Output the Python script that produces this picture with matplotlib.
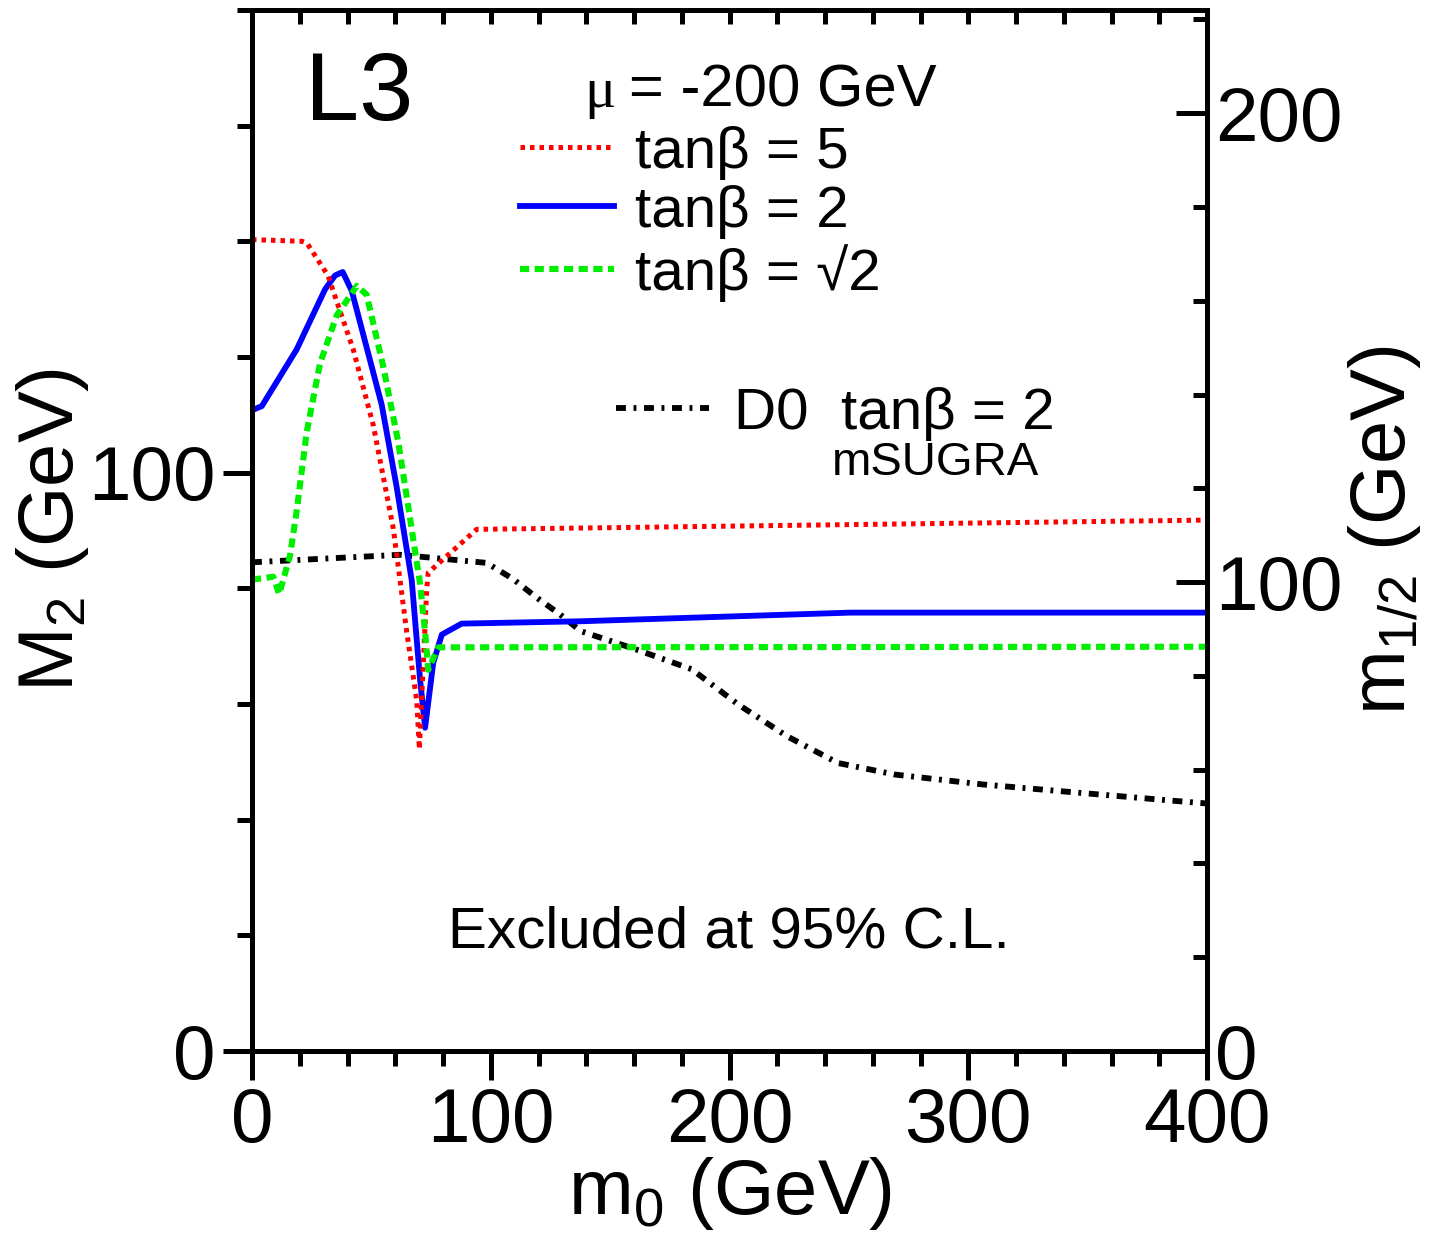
import matplotlib
matplotlib.use("Agg")
import matplotlib.pyplot as plt
from matplotlib.ticker import MultipleLocator

plt.rcParams['font.family'] = ['Liberation Sans', 'DejaVu Sans']
plt.rcParams['mathtext.fontset'] = 'custom'
plt.rcParams['mathtext.rm'] = 'Liberation Sans'
plt.rcParams['mathtext.it'] = 'Liberation Sans:italic'

# --- data (m0 in GeV, M2 in GeV) ---
m0_tb5 = [0, 21, 23, 31.8, 35.5, 42.4, 50.8, 59.2, 64.8, 69.0, 70.1, 73.2, 73.8, 94.1, 400]
M2_tb5 = [140.3, 140.0, 139.7, 134.1, 129.6, 121.3, 108.2, 90.3, 72.5, 60.6, 52.2, 80.0, 82.7, 90.2, 91.8]

m0_tb2 = [0, 4.1, 18.7, 30.6, 34.8, 38.0, 41.8, 54.3, 60.6, 66.9, 70.4, 72.5, 75.9, 79.5, 87.8, 137.4, 250.5, 400]
M2_tb2 = [110.8, 111.5, 121.3, 131.7, 134.1, 134.7, 131.4, 111.8, 97.5, 81.4, 64.2, 55.9, 67.1, 72.0, 73.9, 74.3, 75.8, 75.8]

m0_tbs2 = [0, 8.9, 11.4, 15.9, 18.7, 22.9, 28.5, 35.5, 43.9, 48.0, 55.0, 61.3, 66.2, 70.4, 72.5, 73.8, 78.0, 400]
M2_tbs2 = [81.5, 82.0, 79.0, 85.6, 93.3, 107.0, 118.9, 127.2, 132.3, 130.8, 118.3, 105.2, 92.1, 80.8, 72.5, 65.9, 69.8, 69.9]

m0_d0 = [0, 62, 98.3, 109.4, 119.2, 129, 137.7, 161.1, 184.2, 203.7, 224.2, 245.4, 269.3, 305.8, 342.2, 390.8, 400]
M2_d0 = [84.5, 85.8, 84.4, 81.6, 78.4, 75.5, 72.6, 69.4, 66.0, 59.9, 54.4, 49.8, 47.8, 46.1, 44.8, 43.1, 42.8]

labels = ["tanβ = 5", "tanβ = 2", "tanβ = √2"]

W, H = 1439, 1247
fig = plt.figure(figsize=(W / 100, H / 100), dpi=100)
ax = fig.add_axes([252 / W, 1 - 1051 / H, (1207 - 252) / W, (1051 - 10) / H])

lw_sp = 3.6
red_ls = (0, (0.9, 1.0))
green_ls = (0, (1.5, 0.9))
black_ls = (0, (1.7, 1.3, 0.5, 1.3))

l_red, = ax.plot(m0_tb5, M2_tb5, color='#ff0000', lw=3.6, ls=red_ls, zorder=4)
l_blue, = ax.plot(m0_tb2, M2_tb2, color='#0000ff', lw=4.2, zorder=3)
l_green, = ax.plot(m0_tbs2, M2_tbs2, color='#00ee00', lw=4.4, ls=green_ls, zorder=5)
l_black, = ax.plot(m0_d0, M2_d0, color='black', lw=4.2, ls=black_ls, zorder=2)

ax.set_xlim(0, 400)
ax.set_ylim(0, 180)
ax.xaxis.set_major_locator(MultipleLocator(100))
ax.xaxis.set_minor_locator(MultipleLocator(20))
ax.yaxis.set_major_locator(MultipleLocator(100))
ax.yaxis.set_minor_locator(MultipleLocator(20))
ax.tick_params(which='both', direction='out', width=lw_sp, top=False, right=False,
               labelsize=55)
ax.tick_params(which='major', length=21, pad=5)
ax.tick_params(which='minor', length=10.5)
for s in ax.spines.values():
    s.set_linewidth(lw_sp)

# inward ticks along the top
top = ax.secondary_xaxis('top')
top.xaxis.set_major_locator(MultipleLocator(20))
top.tick_params(direction='in', length=10, width=lw_sp, labeltop=False)
top.spines['top'].set_linewidth(lw_sp)

# right axis: m_1/2
ax2 = ax.twinx()
ax2.set_ylim(0, 222)
ax2.yaxis.set_major_locator(MultipleLocator(100))
ax2.yaxis.set_minor_locator(MultipleLocator(20))
ax2.tick_params(which='both', direction='in', width=lw_sp, labelsize=55, pad=6)
ax2.tick_params(which='major', length=22)
ax2.tick_params(which='minor', length=10)
for s in ax2.spines.values():
    s.set_linewidth(lw_sp)

ax.set_xlabel(r"m$_0$ (GeV)", fontsize=56, labelpad=-2)
ax.set_ylabel(r"M$_2$ (GeV)", fontsize=56, labelpad=-2)
ax2.set_ylabel(r"m$_{1/2}$ (GeV)", fontsize=56, labelpad=2)

ax.text(0.0555, 0.894, "L3", transform=ax.transAxes, fontsize=70, va='baseline')
ax.text(0.3476, 0.907, "μ", transform=ax.transAxes, fontsize=42, va='baseline',
        family=['Liberation Serif', 'DejaVu Serif'])
ax.text(0.395, 0.907, "= -200 GeV", transform=ax.transAxes, fontsize=43,
        va='baseline')
ax.text(0.607, 0.553, "mSUGRA", transform=ax.transAxes, fontsize=34, va='baseline')
ax.text(0.205, 0.099, "Excluded at 95% C.L.", transform=ax.transAxes, fontsize=42,
        va='baseline')

leg1 = ax.legend([l_red, l_blue, l_green], labels, loc='upper left',
                 bbox_to_anchor=(0.2806, 0.889), frameon=False, fontsize=42,
                 handlelength=1.62, handletextpad=0.36, labelspacing=0.09,
                 borderpad=0, borderaxespad=0)
ax.add_artist(leg1)
ax.legend([l_black], ["D0  tanβ = 2"], loc='upper left',
          bbox_to_anchor=(0.3816, 0.638), frameon=False, fontsize=42,
          handlelength=1.58, handletextpad=0.43, borderpad=0, borderaxespad=0)

fig.savefig("out.png", dpi=100)
